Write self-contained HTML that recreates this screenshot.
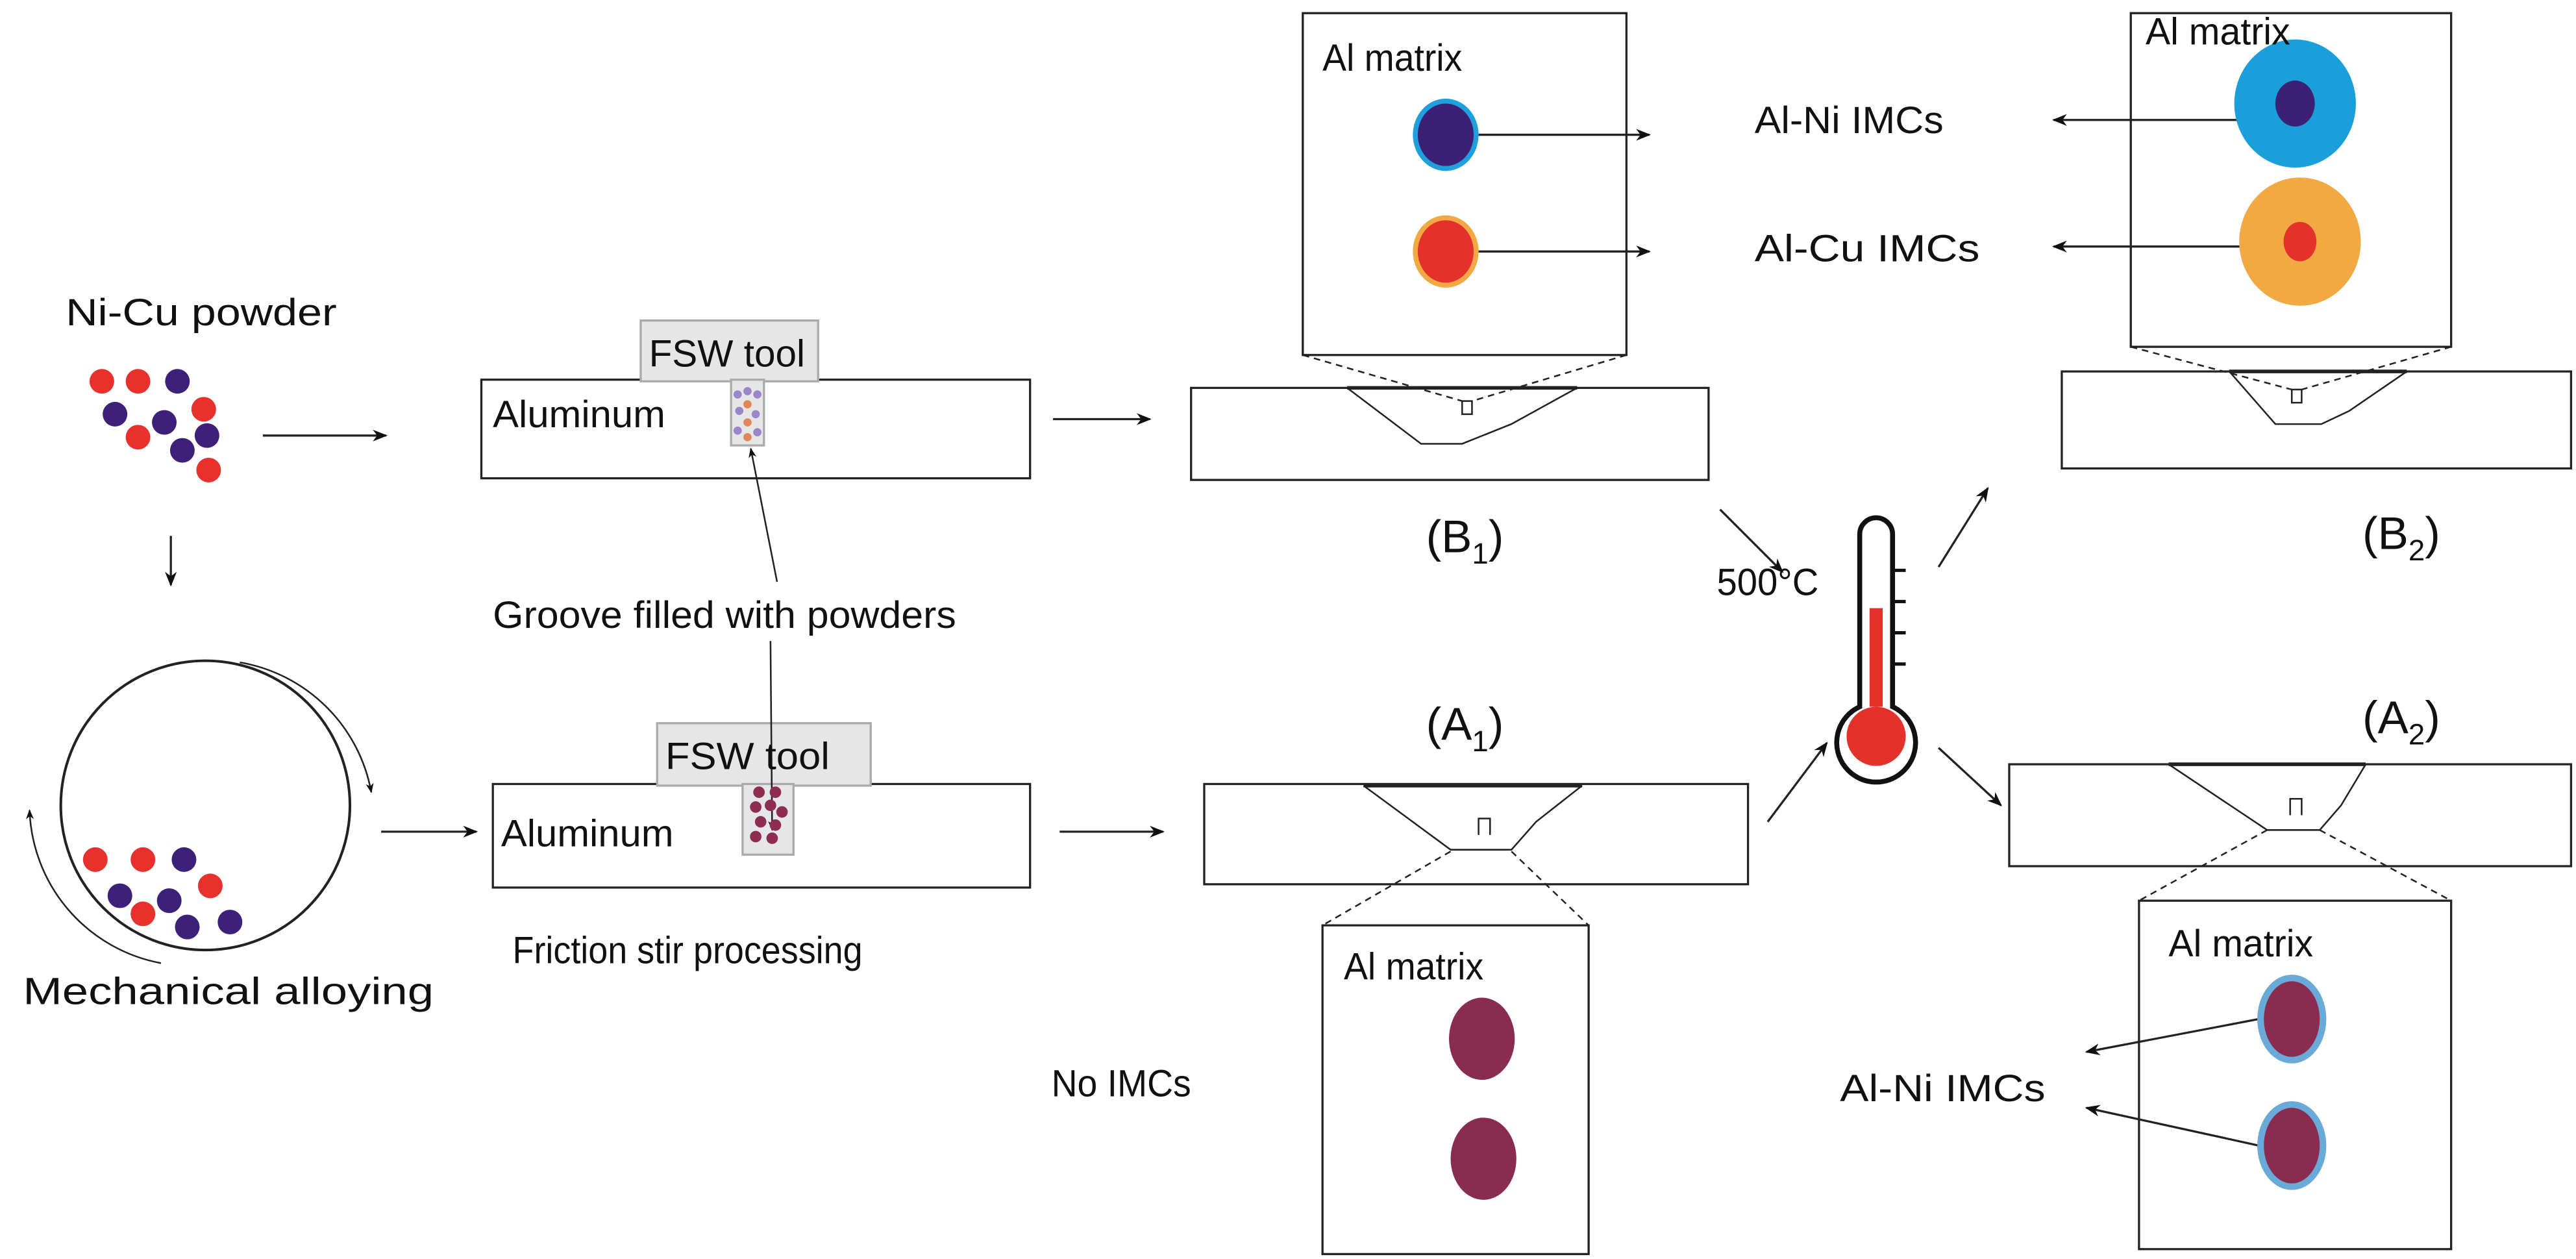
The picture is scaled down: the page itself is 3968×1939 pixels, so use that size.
<!DOCTYPE html>
<html><head><meta charset="utf-8"><style>
html,body{margin:0;padding:0;background:#fff;}
svg{display:block;}
text{font-family:"Liberation Sans",sans-serif;fill:#111;}
</style></head><body>
<svg width="3968" height="1939" viewBox="0 0 1568 766" preserveAspectRatio="none" xmlns="http://www.w3.org/2000/svg">
<defs>
<marker id="a" viewBox="0 0 10 10" refX="9" refY="5" markerWidth="9" markerHeight="9" markerUnits="userSpaceOnUse" orient="auto"><path d="M0,1 L10,5 L0,9 L3,5 Z" fill="#111"/></marker>
<marker id="s" viewBox="0 0 10 10" refX="9" refY="5" markerWidth="6" markerHeight="6" markerUnits="userSpaceOnUse" orient="auto"><path d="M0,1 L10,5 L0,9 L3,5 Z" fill="#111"/></marker>
</defs>
<g stroke="#222" fill="none" stroke-width="1.3">
<line x1="160" y1="265" x2="235" y2="265" marker-end="url(#a)"/>
<line x1="104" y1="326" x2="104" y2="356" marker-end="url(#a)"/>
<circle cx="125" cy="490" r="88" stroke-width="1.6"/>
<path d="M146,403 A98,98 0 0 1 226,482" marker-end="url(#s)" stroke-width="1"/>
<path d="M98,586 A98,98 0 0 1 18,493" marker-end="url(#s)" stroke-width="1"/>
<line x1="232" y1="506" x2="290" y2="506" marker-end="url(#a)"/>
<rect x="293" y="231" width="334" height="60"/>
<rect x="390" y="195" width="108" height="37" fill="#e6e6e6" stroke="#aaa"/>
<rect x="445" y="231" width="20" height="40" fill="#e6e6e6" stroke="#aaa"/>
<line x1="641" y1="255" x2="700" y2="255" marker-end="url(#a)"/>
<rect x="300" y="477" width="327" height="63"/>
<rect x="400" y="440" width="130" height="38" fill="#e6e6e6" stroke="#aaa"/>
<rect x="452" y="477" width="31" height="43" fill="#e6e6e6" stroke="#aaa"/>
<line x1="645" y1="506" x2="708" y2="506" marker-end="url(#a)"/>
<line x1="473" y1="354" x2="457" y2="273" marker-end="url(#s)" stroke-width="1"/>
<line x1="469" y1="390" x2="470" y2="505" marker-end="url(#s)" stroke-width="1"/>
<rect x="725" y="236" width="315" height="56"/>
<path d="M820,236 L865,270 L890,270 L920,258 L960,236" stroke-width="1"/>
<line x1="820" y1="236" x2="960" y2="236" stroke-width="2.2"/>
<rect x="890" y="244" width="6" height="8" stroke-width="1"/>
<rect x="793" y="8" width="197" height="208"/>
<line x1="793" y1="216" x2="890" y2="244" stroke-dasharray="4,3" stroke-width="1"/>
<line x1="990" y1="216" x2="896" y2="244" stroke-dasharray="4,3" stroke-width="1"/>
<line x1="900" y1="82" x2="1004" y2="82" marker-end="url(#a)"/>
<line x1="900" y1="153" x2="1004" y2="153" marker-end="url(#a)"/>
<rect x="1255" y="226" width="310" height="59"/>
<path d="M1357,226 L1385,258 L1413,258 L1430,250 L1465,226" stroke-width="1"/>
<line x1="1357" y1="226" x2="1465" y2="226" stroke-width="2.2"/>
<rect x="1395" y="237" width="6" height="8" stroke-width="1"/>
<rect x="1297" y="8" width="195" height="203"/>
<line x1="1297" y1="211" x2="1395" y2="237" stroke-dasharray="4,3" stroke-width="1"/>
<line x1="1492" y1="211" x2="1401" y2="237" stroke-dasharray="4,3" stroke-width="1"/>
<line x1="1385" y1="73" x2="1250" y2="73" marker-end="url(#a)"/>
<line x1="1390" y1="150" x2="1250" y2="150" marker-end="url(#a)"/>
<line x1="1047" y1="310" x2="1085" y2="348" marker-end="url(#a)"/>
<line x1="1180" y1="345" x2="1210" y2="297" marker-end="url(#a)"/>
<line x1="1180" y1="455" x2="1218" y2="490" marker-end="url(#a)"/>
<line x1="1076" y1="500" x2="1112" y2="452" marker-end="url(#a)"/>
<rect x="733" y="477" width="331" height="61"/>
<path d="M830,478 L883,517 L920,517 L935,500 L963,478" stroke-width="1"/>
<line x1="830" y1="478" x2="963" y2="478" stroke-width="2.2"/>
<path d="M900,508 L900,498 L907,498 L907,508" stroke-width="1"/>
<rect x="805" y="563" width="162" height="200"/>
<line x1="883" y1="518" x2="805" y2="563" stroke-dasharray="4,3" stroke-width="1"/>
<line x1="920" y1="518" x2="967" y2="563" stroke-dasharray="4,3" stroke-width="1"/>
<rect x="1223" y="465" width="342" height="62"/>
<path d="M1320,465 L1380,505 L1412,505 L1425,490 L1440,465" stroke-width="1"/>
<line x1="1320" y1="465" x2="1440" y2="465" stroke-width="2.2"/>
<path d="M1394,496 L1394,486 L1401,486 L1401,496" stroke-width="1"/>
<rect x="1302" y="548" width="190" height="212"/>
<line x1="1380" y1="505" x2="1302" y2="548" stroke-dasharray="4,3" stroke-width="1"/>
<line x1="1412" y1="505" x2="1492" y2="548" stroke-dasharray="4,3" stroke-width="1"/>
<line x1="1375" y1="620" x2="1270" y2="640" marker-end="url(#a)"/>
<line x1="1375" y1="697" x2="1270" y2="674" marker-end="url(#a)"/>
</g>
<g>
<circle cx="62" cy="232" r="7.5" fill="#e8302d"/><circle cx="84" cy="232" r="7.5" fill="#e8302d"/><circle cx="108" cy="232" r="7.5" fill="#3d2079"/>
<circle cx="70" cy="252" r="7.5" fill="#3d2079"/><circle cx="124" cy="249" r="7.5" fill="#e8302d"/><circle cx="100" cy="257" r="7.5" fill="#3d2079"/>
<circle cx="84" cy="266" r="7.5" fill="#e8302d"/><circle cx="126" cy="265" r="7.5" fill="#3d2079"/><circle cx="111" cy="274" r="7.5" fill="#3d2079"/><circle cx="127" cy="286" r="7.5" fill="#e8302d"/>
<circle cx="58" cy="523" r="7.5" fill="#e8302d"/><circle cx="87" cy="523" r="7.5" fill="#e8302d"/><circle cx="112" cy="523" r="7.5" fill="#3d2079"/>
<circle cx="73" cy="545" r="7.5" fill="#3d2079"/><circle cx="103" cy="548" r="7.5" fill="#3d2079"/><circle cx="128" cy="539" r="7.5" fill="#e8302d"/>
<circle cx="87" cy="556" r="7.5" fill="#e8302d"/><circle cx="114" cy="564" r="7.5" fill="#3d2079"/><circle cx="140" cy="561" r="7.5" fill="#3d2079"/>
<g fill="#9a86c9"><circle cx="449" cy="240" r="2.5"/><circle cx="455" cy="238" r="2.5"/><circle cx="461" cy="240" r="2.5"/><circle cx="450" cy="250" r="2.5"/><circle cx="460" cy="252" r="2.5"/><circle cx="449" cy="262" r="2.5"/><circle cx="461" cy="263" r="2.5"/></g>
<g fill="#e0865a"><circle cx="455" cy="246" r="2.5"/><circle cx="455" cy="257" r="2.5"/><circle cx="455" cy="266" r="2.5"/></g>
<g fill="#8e2d52"><circle cx="462" cy="482" r="3.5"/><circle cx="472" cy="482" r="3.5"/><circle cx="460" cy="491" r="3.5"/><circle cx="469" cy="490" r="3.5"/><circle cx="476" cy="494" r="3.5"/><circle cx="463" cy="500" r="3.5"/><circle cx="472" cy="502" r="3.5"/><circle cx="460" cy="509" r="3.5"/><circle cx="470" cy="510" r="3.5"/></g>
<ellipse cx="880" cy="82" rx="20" ry="22" fill="#1fa0dc"/><ellipse cx="880" cy="82" rx="17" ry="19" fill="#3b2176"/>
<ellipse cx="880" cy="153" rx="20" ry="22" fill="#f2a944"/><ellipse cx="880" cy="153" rx="17" ry="19" fill="#e5312b"/>
<ellipse cx="1397" cy="63" rx="37" ry="39" fill="#1a9fda"/><ellipse cx="1397" cy="63" rx="12" ry="14" fill="#3b2176"/>
<ellipse cx="1400" cy="147" rx="37" ry="39" fill="#f2a944"/><ellipse cx="1400" cy="147" rx="10" ry="12" fill="#e5312b"/>
<ellipse cx="902" cy="632" rx="20" ry="25" fill="#8a2c4f"/><ellipse cx="903" cy="705" rx="20" ry="25" fill="#8a2c4f"/>
<ellipse cx="1395" cy="620" rx="21" ry="27" fill="#6aaad8"/><ellipse cx="1395" cy="620" rx="17" ry="23" fill="#8a2c4f"/>
<ellipse cx="1395" cy="697" rx="21" ry="27" fill="#6aaad8"/><ellipse cx="1395" cy="697" rx="17" ry="23" fill="#8a2c4f"/>
<path d="M1132,430 L1132,325 A10,10 0 0 1 1152,325 L1152,430 A24,24 0 1 1 1132,430 Z" fill="#fff" stroke="#111" stroke-width="3"/>
<rect x="1138" y="370" width="8" height="60" fill="#e5312b"/>
<circle cx="1142" cy="448" r="18" fill="#e5312b"/>
<g stroke="#111" stroke-width="2"><line x1="1152" y1="347" x2="1160" y2="347"/><line x1="1152" y1="366" x2="1160" y2="366"/><line x1="1152" y1="385" x2="1160" y2="385"/><line x1="1152" y1="404" x2="1160" y2="404"/></g>
</g>
<g font-size="23">
<text x="40" y="198" textLength="165" lengthAdjust="spacingAndGlyphs">Ni-Cu powder</text>
<text x="14" y="611" textLength="250" lengthAdjust="spacingAndGlyphs">Mechanical alloying</text>
<text x="300" y="260" textLength="105" lengthAdjust="spacingAndGlyphs">Aluminum</text>
<text x="395" y="223" textLength="95" lengthAdjust="spacingAndGlyphs">FSW tool</text>
<text x="300" y="382" textLength="282" lengthAdjust="spacingAndGlyphs">Groove filled with powders</text>
<text x="405" y="468" textLength="100" lengthAdjust="spacingAndGlyphs">FSW tool</text>
<text x="305" y="515" textLength="105" lengthAdjust="spacingAndGlyphs">Aluminum</text>
<text x="312" y="586" textLength="213" lengthAdjust="spacingAndGlyphs">Friction stir processing</text>
<text x="805" y="43" textLength="85" lengthAdjust="spacingAndGlyphs">Al matrix</text>
<text x="1068" y="81" textLength="115" lengthAdjust="spacingAndGlyphs">Al-Ni IMCs</text>
<text x="1068" y="159" textLength="137" lengthAdjust="spacingAndGlyphs">Al-Cu IMCs</text>
<text x="1306" y="27" textLength="88" lengthAdjust="spacingAndGlyphs">Al matrix</text>
<text x="818" y="596" textLength="85" lengthAdjust="spacingAndGlyphs">Al matrix</text>
<text x="640" y="667" textLength="85" lengthAdjust="spacingAndGlyphs">No IMCs</text>
<text x="1120" y="670" textLength="125" lengthAdjust="spacingAndGlyphs">Al-Ni IMCs</text>
<text x="1320" y="582" textLength="88" lengthAdjust="spacingAndGlyphs">Al matrix</text>
<text x="1045" y="362" textLength="62" lengthAdjust="spacingAndGlyphs">500°C</text>
</g>
<g font-size="28">
<text x="868" y="336">(B<tspan font-size="18" dy="7">1</tspan><tspan dy="-7">)</tspan></text>
<text x="1438" y="334">(B<tspan font-size="18" dy="7">2</tspan><tspan dy="-7">)</tspan></text>
<text x="868" y="450">(A<tspan font-size="18" dy="7">1</tspan><tspan dy="-7">)</tspan></text>
<text x="1438" y="446">(A<tspan font-size="18" dy="7">2</tspan><tspan dy="-7">)</tspan></text>
</g>
</svg>
</body></html>
